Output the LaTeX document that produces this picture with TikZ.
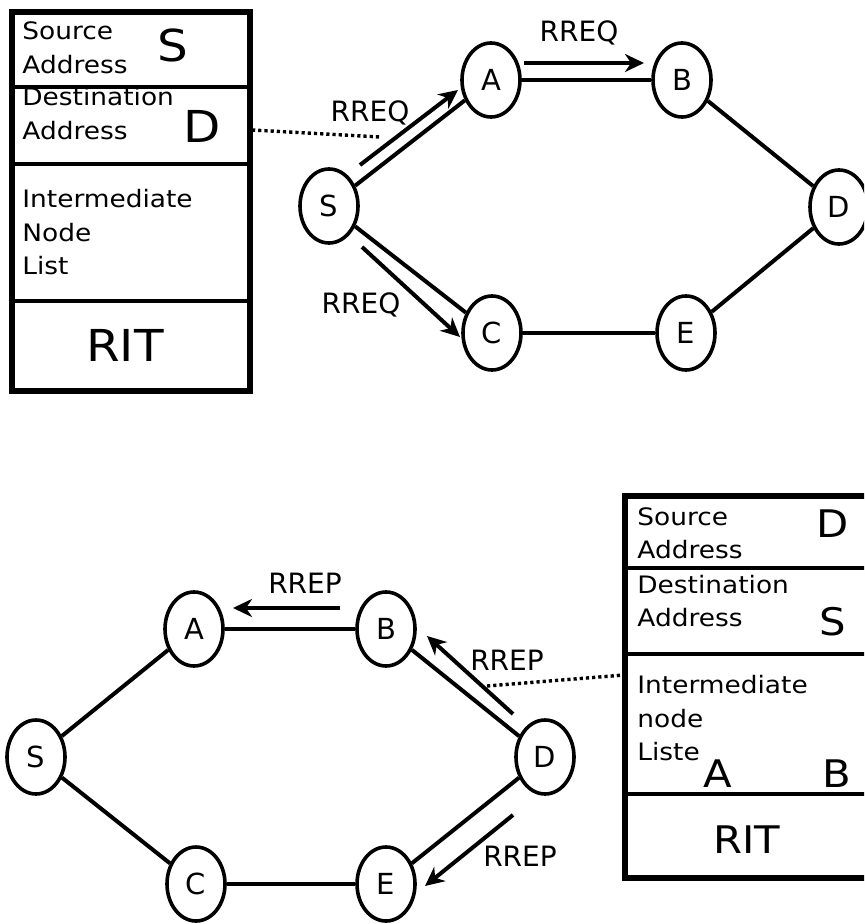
\documentclass[tikz,border=0pt]{standalone}
\usepackage{fontspec}
\setmainfont{DejaVu Sans}[FakeStretch=1.1]
\newfontfamily\lblfont{DejaVu Sans}
\usetikzlibrary{shapes.geometric,arrows.meta}
\begin{document}
\begin{tikzpicture}[x=0.5pt,y=-0.5pt,
  vtx/.style={ellipse,draw,line width=1.8pt,minimum width=29pt,minimum height=37pt,inner sep=0pt,font=\lblfont\fontsize{14.5}{16}\selectfont},
  edge/.style={line width=2pt},
  msg/.style={line width=2pt,-{Stealth[length=9.5pt,width=9pt,inset=3pt]}},
  lbl/.style={font=\lblfont\fontsize{14}{16}\selectfont,inner sep=0pt},
  small/.style={font=\fontsize{12}{14}\selectfont,anchor=base west,inner sep=0pt},
  bigtop/.style={font=\fontsize{22}{24}\selectfont,anchor=base,inner sep=0pt},
  bigbot/.style={font=\fontsize{19}{21}\selectfont,anchor=base,inner sep=0pt},
  tbl/.style={line width=2.8pt},
  divline/.style={line width=2.2pt},
  dots/.style={line width=1.7pt,dash pattern=on 1.6pt off 1.5pt}
]
\useasboundingbox (0,0) rectangle (864,924);
\clip (0,0) rectangle (864,924);

% ---------- top table ----------
\draw[tbl] (12,12) rectangle (250,391);
\draw[divline] (12,87) -- (250,87);
\draw[divline] (12,164) -- (250,164);
\draw[divline] (12,301) -- (250,301);
\node[small] (t1a) at (22,40) {Source};
\node[small] (t1b) at (22,74) {Address};
\node[bigtop] (t1s) at (173,62) {S};
\node[small] (t1c) at (22,106) {Destination};
\node[small] (t1d) at (22,140) {Address};
\node[bigtop] (t1dd) at (202,143) {D};
\node[small] (t1e) at (22,208) {Intermediate};
\node[small] (t1f) at (22,242) {Node};
\node[small] (t1g) at (22,275) {List};
\node[bigtop] (t1rit) at (125,362) {RIT};

% ---------- top graph ----------
\node[vtx] (S1) at (329,206) {S};
\node[vtx] (A1) at (491,80) {A};
\node[vtx] (B1) at (682,80) {B};
\node[vtx] (D1) at (839,207) {D};
\node[vtx] (C1) at (492,333) {C};
\node[vtx] (E1) at (686,333) {E};
\draw[edge] (S1) -- (A1);
\draw[edge] (A1) -- (B1);
\draw[edge] (B1) -- (D1);
\draw[edge] (S1) -- (C1);
\draw[edge] (C1) -- (E1);
\draw[edge] (E1) -- (D1);

\coordinate (m1s) at (360,165); \coordinate (m1e) at (458,90);
\coordinate (m2s) at (524,63);  \coordinate (m2e) at (644,63);
\coordinate (m3s) at (362,247); \coordinate (m3e) at (460,337);
\draw[msg] (m1s) -- (m1e);
\draw[msg] (m2s) -- (m2e);
\draw[msg] (m3s) -- (m3e);
\node[lbl] (r1) at (370,113) {RREQ};
\node[lbl] (r2) at (579,33) {RREQ};
\node[lbl] (r3) at (361,305) {RREQ};

\coordinate (p1s) at (252,130); \coordinate (p1e) at (380,137);
\draw[dots] (p1s) -- (p1e);

% ---------- bottom graph ----------
\node[vtx] (S2) at (36,757) {S};
\node[vtx] (A2) at (194,629) {A};
\node[vtx] (B2) at (386,629) {B};
\node[vtx] (D2) at (545,757) {D};
\node[vtx] (C2) at (196,884) {C};
\node[vtx] (E2) at (386,884) {E};
\draw[edge] (S2) -- (A2);
\draw[edge] (A2) -- (B2);
\draw[edge] (B2) -- (D2);
\draw[edge] (S2) -- (C2);
\draw[edge] (C2) -- (E2);
\draw[edge] (E2) -- (D2);

\coordinate (n1s) at (340,608); \coordinate (n1e) at (233,608);
\coordinate (n2s) at (513,714); \coordinate (n2e) at (427,636);
\coordinate (n3s) at (513,815); \coordinate (n3e) at (425,886);
\draw[msg] (n1s) -- (n1e);
\draw[msg] (n2s) -- (n2e);
\draw[msg] (n3s) -- (n3e);
\node[lbl] (q1) at (305,583) {RREP};
\node[lbl] (q2) at (507,660) {RREP};
\node[lbl] (q3) at (520,856) {RREP};

\coordinate (p2s) at (487,686); \coordinate (p2e) at (624,675);
\draw[dots] (p2s) -- (p2e);

% ---------- bottom table ----------
\draw[tbl] (625,496) rectangle (890,878);
\draw[divline] (625,568) -- (890,568);
\draw[divline] (625,654) -- (890,654);
\draw[divline] (625,794) -- (890,794);
\node[small] (t2a) at (637,525) {Source};
\node[small] (t2b) at (637,558) {Address};
\node[bigbot] (t2d) at (833,537) {D};
\node[small] (t2c) at (637,593) {Destination};
\node[small] (t2e) at (637,626) {Address};
\node[bigbot] (t2s) at (833,635) {S};
\node[small] (t2f) at (637,693) {Intermediate};
\node[small] (t2g) at (637,727) {node};
\node[small] (t2h) at (637,760) {Liste};
\node[bigbot] (t2A) at (718,787) {A};
\node[bigbot] (t2B) at (837,787) {B};
\node[bigbot] (t2rit) at (747,853) {RIT};
\end{tikzpicture}
\end{document}
